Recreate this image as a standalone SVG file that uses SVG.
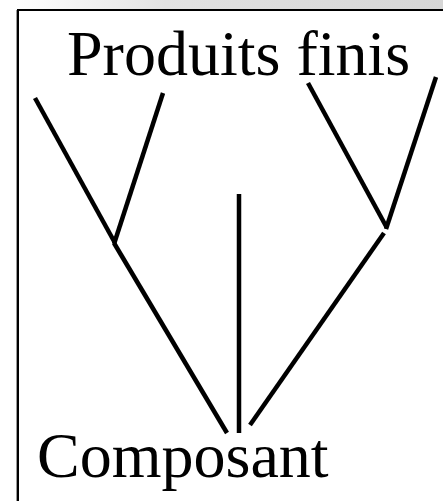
<svg xmlns="http://www.w3.org/2000/svg" width="443" height="501" viewBox="0 0 443 501">
  <style>
    .lbl { font-family: 'Times New Roman', Tinos, 'Nimbus Roman', 'Liberation Serif', serif; font-size: 64px; fill: #000; }
    .edge { stroke: #000; stroke-width: 4.5; fill: none; }
  </style>
  <defs>
    <linearGradient id="shade" x1="0" y1="0" x2="1" y2="0">
      <stop offset="0" stop-color="#ffffff"/>
      <stop offset="0.35" stop-color="#e2e2e2"/>
      <stop offset="1" stop-color="#d6d6d6"/>
    </linearGradient>
  </defs>
  <rect x="0" y="0" width="443" height="501" fill="#ffffff"/>
  <rect x="16" y="0" width="427" height="10" fill="url(#shade)"/>
  <line x1="16.5" y1="10" x2="16.5" y2="501" stroke="#9a9a9a" stroke-width="1"/>
  <rect id="frame" x="18" y="10" width="440" height="500" fill="#ffffff" stroke="#000" stroke-width="2"/>
  <g id="produits-finis">
    <text class="lbl" x="67" y="75">Produits finis</text>
  </g>
  <g id="composant">
    <text class="lbl" x="37" y="477">Composant</text>
  </g>
  <g id="connectors">
    <line class="edge" x1="35" y1="98" x2="115" y2="243"/>
    <line class="edge" x1="163" y1="93" x2="114" y2="244"/>
    <line class="edge" x1="114" y1="243" x2="227" y2="433"/>
    <line class="edge" x1="239" y1="194" x2="239" y2="433"/>
    <line class="edge" x1="384" y1="233" x2="250" y2="425"/>
    <line class="edge" x1="308" y1="83" x2="387" y2="228"/>
    <line class="edge" x1="436" y1="77" x2="386" y2="229"/>
  </g>
</svg>
